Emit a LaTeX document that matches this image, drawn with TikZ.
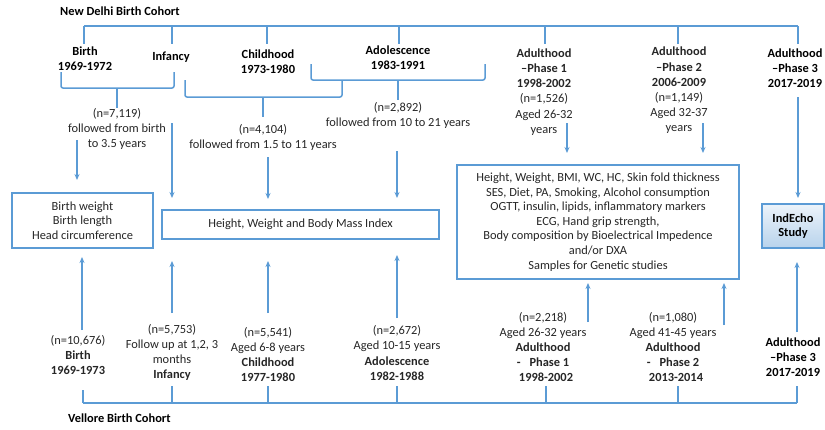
\documentclass[tikz,border=0pt]{standalone}
\usepackage{fontspec}
\setmainfont{Carlito}
\usetikzlibrary{arrows.meta}
\definecolor{lineblue}{RGB}{91,155,213}
\definecolor{txtgrey}{RGB}{38,38,38}
\definecolor{shadetop}{RGB}{236,243,250}
\definecolor{shadebot}{RGB}{184,211,236}
\tikzset{
  conn/.style={draw=lineblue, line width=1.5pt},
  arr/.style={conn, -{Stealth[length=6pt,width=5pt]}},
  lbl/.style={align=center, inner sep=0pt, text=txtgrey,
    font=\fontsize{12.4}{15.2}\selectfont},
  blbl/.style={lbl, text=black, font=\fontsize{12.4}{15.2}\selectfont\bfseries},
  box/.style={draw=lineblue, line width=1.3pt, align=center, inner sep=0pt,
    text=txtgrey, font=\fontsize{12.4}{14.5}\selectfont},
}
\begin{document}
\begin{tikzpicture}[x=1pt,y=-1pt]
\useasboundingbox (0,0) rectangle (825,429);

% ---------------- New Delhi cohort (top) ----------------
\node[blbl, anchor=west] (ndTitle) at (60,11) {New Delhi Birth Cohort};

\foreach \n/\x in {1/84,2/172,3/267,4/399,5/545,6/678,7/798}{
  \coordinate (tt\n) at (\x,26);
  \coordinate (td\n) at (\x,44);
}
\draw[conn] (tt1) -- (tt7);
\foreach \n in {1,...,7}{ \draw[conn] (tt\n) -- (td\n); }

\node[blbl] (tBirth) at (85,58.5) {Birth\\1969-1972};
\node[blbl] (tInf) at (171,57) {Infancy};
\node[blbl] (tChild) at (268,62) {Childhood\\1973-1980};
\node[blbl] (tAdol) at (398,57.5) {Adolescence\\1983-1991};
\node[lbl] (tAd1) at (544,92) {\textbf{Adulthood}\\\textbf{--Phase 1}\\\textbf{1998-2002}\\(n=1,526)\\Aged 26-32\\years};
\node[lbl] (tAd2) at (679,90.5) {\textbf{Adulthood}\\\textbf{--Phase 2}\\\textbf{2006-2009}\\(n=1,149)\\Aged 32-37\\years};
\node[blbl] (tAd3) at (795,68) {Adulthood\\--Phase 3\\2017-2019};

% braces grouping the early waves
\coordinate (b1l) at (61,72);  \coordinate (b1r) at (174,72);
\coordinate (b1m) at (117,88); \coordinate (b1s) at (117,108);
\draw[conn, rounded corners=2pt] (b1l) |- (b1m) -| (b1r);
\draw[conn] (b1m) -- (b1s);

\coordinate (b2l) at (185,80);  \coordinate (b2r) at (342,80);
\coordinate (b2m) at (263,97);  \coordinate (b2s) at (263,117);
\draw[conn, rounded corners=2pt] (b2l) |- (b2m) -| (b2r);
\draw[conn] (b2m) -- (b2s);

\coordinate (b3l) at (311,64);  \coordinate (b3r) at (485,64);
\coordinate (b3m) at (398,80);  \coordinate (b3s) at (398,100);
\draw[conn, rounded corners=2pt] (b3l) |- (b3m) -| (b3r);
\draw[conn] (b3m) -- (b3s);

\node[lbl] (f1) at (117,129) {(n=7,119)\\followed from birth\\to 3.5 years};
\node[lbl] (f2) at (263,137.5) {(n=4,104)\\followed from 1.5 to 11 years};
\node[lbl] (f3) at (398,115.5) {(n=2,892)\\followed from 10 to 21 years};

% ---------------- measurement boxes ----------------
\node[box, minimum width=141pt, minimum height=55pt] (boxA) at (82.5,220.5)
  {Birth weight\\Birth length\\Head circumference};
\node[box, minimum width=277pt, minimum height=29pt] (boxB) at (300.5,224.5)
  {Height, Weight and Body Mass Index};
\node[box, minimum width=282pt, minimum height=114pt,
  font=\fontsize{12.4}{14.6}\selectfont] (boxC) at (598,222)
  {Height, Weight, BMI, WC, HC, Skin fold thickness\\
   SES, Diet, PA, Smoking, Alcohol consumption\\
   OGTT, insulin, lipids, inflammatory markers\\
   ECG, Hand grip strength,\\
   Body composition by Bioelectrical Impedence\\
   and/or DXA\\
   Samples for Genetic studies};
\node[box, minimum width=62pt, minimum height=44pt, text=black,
  font=\fontsize{12.4}{14.5}\selectfont\bfseries,
  top color=shadetop, bottom color=shadebot] (boxD) at (793,226)
  {IndEcho\\Study};

% arrows from the New Delhi waves
\coordinate (ua1) at (77,140);  \coordinate (ub1) at (77,180);
\coordinate (ua2) at (172,123); \coordinate (ub2) at (172,198);
\coordinate (ua3) at (268,157); \coordinate (ub3) at (268,199);
\coordinate (ua4) at (397,151); \coordinate (ub4) at (397,198);
\coordinate (ua5) at (567,123); \coordinate (ub5) at (567,153);
\coordinate (ua6) at (703,123); \coordinate (ub6) at (703,153);
\coordinate (ua7) at (798,97);  \coordinate (ub7) at (798,198);
\foreach \n in {1,...,7}{ \draw[arr] (ua\n) -- (ub\n); }

% ---------------- Vellore cohort (bottom) ----------------
\node[lbl] (vBirth) at (78,355) {(n=10,676)\\\textbf{Birth}\\\textbf{1969-1973}};
\node[lbl] (vInf) at (172,352.5) {(n=5,753)\\Follow up at 1,2, 3\\months\\\textbf{Infancy}};
\node[lbl] (vChild) at (268,354.5) {(n=5,541)\\Aged 6-8 years\\\textbf{Childhood}\\\textbf{1977-1980}};
\node[lbl] (vAdol) at (397,353) {(n=2,672)\\Aged 10-15 years\\\textbf{Adolescence}\\\textbf{1982-1988}};
\node[lbl] (vAd1) at (543,347) {(n=2,218)\\Aged 26-32 years\\\textbf{Adulthood}\\\textbf{-\hspace{9pt}Phase 1}\\\textbf{\hspace{6pt}1998-2002}};
\node[lbl] (vAd2) at (673,347) {(n=1,080)\\Aged 41-45 years\\\textbf{Adulthood}\\\textbf{-\hspace{9pt}Phase 2}\\\textbf{\hspace{6pt}2013-2014}};
\node[blbl] (vAd3) at (793,357) {Adulthood\\--Phase 3\\2017-2019};

\coordinate (da1) at (82,330);  \coordinate (db1) at (82,257);
\coordinate (da2) at (172,313); \coordinate (db2) at (172,261);
\coordinate (da3) at (268,313); \coordinate (db3) at (268,261);
\coordinate (da4) at (397,318); \coordinate (db4) at (397,255);
\coordinate (da5) at (588,322); \coordinate (db5) at (588,283);
\coordinate (da6) at (724,325); \coordinate (db6) at (724,283);
\coordinate (da7) at (797,332); \coordinate (db7) at (797,262);
\foreach \n in {1,...,7}{ \draw[arr] (da\n) -- (db\n); }

\foreach \n/\x/\y in {1/83/390,2/172/386,3/268/386,4/397/386,5/546/386,6/678/386,7/797/386}{
  \coordinate (bt\n) at (\x,\y);
  \coordinate (bb\n) at (\x,403);
}
\draw[conn] (bb1) -- (bb7);
\foreach \n in {1,...,7}{ \draw[conn] (bt\n) -- (bb\n); }

\node[blbl, anchor=west] (vTitle) at (68,418) {Vellore Birth Cohort};
\end{tikzpicture}
\end{document}
